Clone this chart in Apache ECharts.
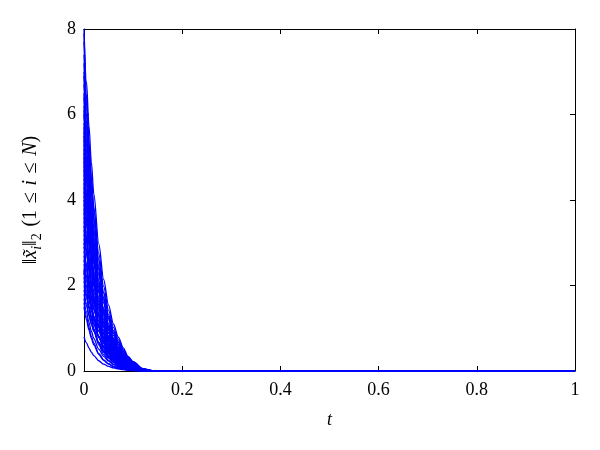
<!DOCTYPE html>
<html>
<head>
<meta charset="utf-8">
<script src="https://cdn.jsdelivr.net/npm/echarts@6/dist/echarts.min.js"></script>
<style>html,body{margin:0;padding:0;background:#fff}#c{width:600px;height:450px}</style>
</head>
<body>
<div id="c"></div>
<script>
// time samples
const tValues = [0, 0.005, 0.01, 0.015, 0.02, 0.03, 0.04, 0.05, 0.06, 0.07, 0.08, 0.09, 0.1, 0.12, 0.14, 0.2, 1];
// each row: ||x~_i||_2 of one agent at the time samples above
const curveValues = [
  [8.0, 6.78, 5.75, 4.88, 4.14, 2.98, 2.14, 1.54, 1.10, 0.79, 0.54, 0.34, 0.22, 0.056, 0.008, 0, 0],
  [7.9, 6.47, 5.29, 4.34, 3.55, 2.38, 1.60, 1.07, 0.72, 0.48, 0.31, 0.18, 0.11, 0.024, 0.002, 0, 0],
  [7.7, 6.43, 5.37, 4.49, 3.75, 2.62, 1.82, 1.27, 0.89, 0.62, 0.41, 0.26, 0.15, 0.04, 0.005, 0, 0],
  [7.4, 6.28, 5.32, 4.51, 3.83, 2.75, 1.98, 1.42, 1.02, 0.73, 0.50, 0.32, 0.21, 0.05, 0.007, 0, 0],
  [7.2, 6.01, 5.03, 4.20, 3.51, 2.45, 1.71, 1.19, 0.83, 0.58, 0.38, 0.24, 0.14, 0.036, 0.004, 0, 0],
  [7.0, 5.73, 4.69, 3.84, 3.14, 2.11, 1.41, 0.95, 0.64, 0.43, 0.27, 0.16, 0.10, 0.02, 0.002, 0, 0],
  [6.9, 5.85, 4.96, 4.21, 3.57, 2.57, 1.84, 1.32, 0.95, 0.68, 0.46, 0.30, 0.19, 0.048, 0.007, 0, 0],
  [6.7, 5.59, 4.68, 3.91, 3.26, 2.28, 1.59, 1.11, 0.77, 0.54, 0.36, 0.23, 0.13, 0.03, 0.004, 0, 0],
  [6.5, 5.32, 4.36, 3.57, 2.92, 1.96, 1.31, 0.88, 0.59, 0.40, 0.25, 0.15, 0.09, 0.02, 0.002, 0, 0],
  [6.4, 5.43, 4.60, 3.90, 3.31, 2.38, 1.71, 1.23, 0.88, 0.63, 0.43, 0.28, 0.18, 0.045, 0.006, 0, 0],
  [6.2, 5.18, 4.33, 3.61, 3.02, 2.11, 1.47, 1.02, 0.71, 0.50, 0.33, 0.21, 0.12, 0.03, 0.004, 0, 0],
  [6.1, 5.0, 4.09, 3.35, 2.74, 1.84, 1.23, 0.82, 0.56, 0.37, 0.24, 0.14, 0.085, 0.018, 0.002, 0, 0],
  [6.0, 5.01, 4.19, 3.50, 2.92, 2.04, 1.42, 0.99, 0.69, 0.48, 0.32, 0.20, 0.12, 0.03, 0.004, 0, 0],
  [5.8, 4.84, 4.05, 3.38, 2.82, 1.97, 1.37, 0.96, 0.67, 0.46, 0.31, 0.20, 0.12, 0.03, 0.003, 0, 0],
  [5.7, 4.67, 3.82, 3.13, 2.56, 1.72, 1.15, 0.77, 0.52, 0.35, 0.22, 0.13, 0.08, 0.017, 0.002, 0, 0],
  [5.6, 4.59, 3.75, 3.07, 2.51, 1.69, 1.13, 0.76, 0.51, 0.34, 0.22, 0.13, 0.08, 0.017, 0.002, 0, 0],
  [5.5, 4.74, 4.08, 3.51, 3.02, 2.24, 1.66, 1.23, 0.91, 0.67, 0.47, 0.31, 0.21, 0.05, 0.006, 0, 0],
  [5.4, 4.51, 3.77, 3.15, 2.63, 1.84, 1.28, 0.89, 0.62, 0.43, 0.29, 0.18, 0.11, 0.027, 0.003, 0, 0],
  [5.3, 4.49, 3.81, 3.23, 2.74, 1.97, 1.42, 1.02, 0.73, 0.52, 0.36, 0.23, 0.15, 0.037, 0.005, 0, 0],
  [5.2, 4.15, 3.32, 2.65, 2.12, 1.35, 0.86, 0.55, 0.35, 0.22, 0.14, 0.08, 0.04, 0.01, 0.001, 0, 0],
  [5.1, 4.18, 3.42, 2.80, 2.29, 1.54, 1.03, 0.69, 0.46, 0.31, 0.20, 0.12, 0.07, 0.015, 0.002, 0, 0],
  [5.0, 4.24, 3.60, 3.05, 2.59, 1.86, 1.34, 0.96, 0.69, 0.50, 0.34, 0.22, 0.14, 0.035, 0.005, 0, 0],
  [4.9, 3.92, 3.13, 2.49, 1.99, 1.27, 0.81, 0.51, 0.33, 0.21, 0.13, 0.07, 0.04, 0.01, 0.001, 0, 0],
  [4.8, 4.01, 3.35, 2.80, 2.34, 1.63, 1.14, 0.79, 0.55, 0.38, 0.25, 0.16, 0.10, 0.024, 0.003, 0, 0],
  [4.7, 3.85, 3.15, 2.58, 2.11, 1.41, 0.95, 0.63, 0.43, 0.29, 0.18, 0.11, 0.066, 0.014, 0.001, 0, 0],
  [4.6, 3.96, 3.41, 2.93, 2.53, 1.87, 1.38, 1.03, 0.76, 0.56, 0.40, 0.26, 0.17, 0.04, 0.005, 0, 0],
  [4.5, 3.76, 3.14, 2.62, 2.19, 1.53, 1.07, 0.74, 0.52, 0.36, 0.24, 0.15, 0.09, 0.023, 0.003, 0, 0],
  [4.4, 3.60, 2.95, 2.42, 1.98, 1.32, 0.89, 0.59, 0.40, 0.27, 0.17, 0.10, 0.06, 0.013, 0.001, 0, 0],
  [4.3, 3.59, 3.0, 2.51, 2.09, 1.46, 1.02, 0.71, 0.49, 0.34, 0.23, 0.15, 0.086, 0.022, 0.003, 0, 0],
  [4.2, 3.56, 3.02, 2.56, 2.17, 1.56, 1.12, 0.81, 0.58, 0.42, 0.28, 0.18, 0.12, 0.03, 0.004, 0, 0],
  [4.1, 3.28, 2.62, 2.09, 1.67, 1.06, 0.68, 0.43, 0.27, 0.18, 0.11, 0.06, 0.033, 0.008, 0.001, 0, 0],
  [4.0, 3.44, 2.96, 2.55, 2.20, 1.63, 1.20, 0.89, 0.66, 0.49, 0.34, 0.23, 0.15, 0.036, 0.004, 0, 0],
  [3.9, 3.12, 2.49, 1.99, 1.59, 1.01, 0.64, 0.41, 0.26, 0.17, 0.10, 0.06, 0.03, 0.008, 0.001, 0, 0],
  [3.8, 3.17, 2.65, 2.22, 1.85, 1.29, 0.90, 0.63, 0.44, 0.30, 0.20, 0.13, 0.076, 0.019, 0.002, 0, 0],
  [3.7, 3.03, 2.48, 2.03, 1.66, 1.11, 0.75, 0.50, 0.34, 0.23, 0.14, 0.085, 0.05, 0.011, 0.001, 0, 0],
  [3.6, 3.10, 2.67, 2.30, 1.98, 1.47, 1.08, 0.80, 0.59, 0.44, 0.31, 0.21, 0.14, 0.032, 0.004, 0, 0],
  [3.5, 2.87, 2.35, 1.92, 1.57, 1.05, 0.71, 0.47, 0.32, 0.21, 0.14, 0.08, 0.05, 0.01, 0.001, 0, 0],
  [3.4, 2.84, 2.37, 1.98, 1.66, 1.16, 0.81, 0.56, 0.39, 0.27, 0.18, 0.12, 0.07, 0.017, 0.002, 0, 0],
  [3.3, 2.80, 2.37, 2.01, 1.71, 1.23, 0.88, 0.63, 0.46, 0.33, 0.22, 0.14, 0.09, 0.023, 0.003, 0, 0],
  [3.2, 2.76, 2.37, 2.04, 1.76, 1.30, 0.96, 0.71, 0.53, 0.39, 0.28, 0.18, 0.12, 0.029, 0.003, 0, 0],
  [3.1, 2.48, 1.98, 1.58, 1.26, 0.80, 0.51, 0.33, 0.21, 0.13, 0.08, 0.047, 0.025, 0.006, 0.001, 0, 0],
  [3.0, 2.51, 2.09, 1.75, 1.46, 1.02, 0.71, 0.50, 0.35, 0.24, 0.16, 0.10, 0.06, 0.015, 0.002, 0, 0],
  [2.9, 2.50, 2.15, 1.85, 1.59, 1.18, 0.87, 0.65, 0.48, 0.35, 0.25, 0.17, 0.11, 0.026, 0.003, 0, 0],
  [2.8, 2.37, 2.01, 1.71, 1.45, 1.04, 0.75, 0.54, 0.39, 0.28, 0.19, 0.12, 0.08, 0.02, 0.003, 0, 0],
  [2.7, 2.21, 1.81, 1.48, 1.21, 0.81, 0.55, 0.36, 0.25, 0.16, 0.11, 0.06, 0.04, 0.008, 0.001, 0, 0],
  [2.6, 2.24, 1.93, 1.66, 1.43, 1.06, 0.78, 0.58, 0.43, 0.32, 0.22, 0.15, 0.10, 0.023, 0.003, 0, 0],
  [2.5, 2.12, 1.80, 1.53, 1.29, 0.93, 0.67, 0.48, 0.35, 0.25, 0.17, 0.11, 0.07, 0.018, 0.002, 0, 0],
  [2.4, 2.0, 1.68, 1.40, 1.17, 0.82, 0.57, 0.40, 0.28, 0.19, 0.13, 0.08, 0.05, 0.012, 0.001, 0, 0],
  [2.35, 1.88, 1.50, 1.20, 0.96, 0.61, 0.39, 0.25, 0.16, 0.10, 0.06, 0.035, 0.02, 0.005, 0, 0, 0],
  [2.3, 1.98, 1.70, 1.47, 1.26, 0.94, 0.69, 0.51, 0.38, 0.28, 0.20, 0.13, 0.09, 0.02, 0.002, 0, 0],
  [2.2, 1.80, 1.47, 1.21, 0.99, 0.66, 0.44, 0.30, 0.20, 0.13, 0.086, 0.05, 0.03, 0.007, 0.001, 0, 0],
  [2.1, 1.78, 1.51, 1.28, 1.09, 0.78, 0.56, 0.40, 0.29, 0.21, 0.14, 0.09, 0.06, 0.015, 0.002, 0, 0],
  [2.0, 1.72, 1.48, 1.28, 1.10, 0.81, 0.60, 0.45, 0.33, 0.24, 0.17, 0.11, 0.08, 0.018, 0.002, 0, 0],
  [1.9, 1.59, 1.33, 1.11, 0.93, 0.65, 0.45, 0.31, 0.22, 0.15, 0.10, 0.065, 0.038, 0.01, 0.001, 0, 0],
  [1.8, 1.53, 1.29, 1.10, 0.93, 0.67, 0.48, 0.35, 0.25, 0.18, 0.12, 0.077, 0.05, 0.013, 0.002, 0, 0],
  [1.7, 1.39, 1.14, 0.93, 0.76, 0.51, 0.34, 0.23, 0.15, 0.10, 0.066, 0.04, 0.024, 0.005, 0, 0, 0],
  [1.6, 1.28, 1.02, 0.81, 0.65, 0.41, 0.26, 0.17, 0.11, 0.07, 0.042, 0.024, 0.013, 0.003, 0, 0, 0],
  [1.5, 1.20, 0.96, 0.76, 0.61, 0.39, 0.25, 0.16, 0.10, 0.065, 0.039, 0.023, 0.012, 0.003, 0, 0, 0],
  [0.8, 0.66, 0.54, 0.44, 0.36, 0.24, 0.16, 0.11, 0.073, 0.049, 0.031, 0.018, 0.011, 0.002, 0, 0, 0]
];
// axis ticks
const xTicks = [0, 0.2, 0.4, 0.6, 0.8, 1];
const yTicks = [0, 2, 4, 6, 8];

const chart = echarts.init(document.getElementById('c'), null, {renderer: 'canvas'});
const serif = '"Liberation Serif", "DejaVu Serif", serif';
const series = curveValues.map(vals => ({
  type: 'line',
  data: tValues.map((t, k) => [t, vals[k]]),
  showSymbol: false,
  smooth: 0.3,
  smoothMonotone: 'x',
  lineStyle: {color: '#0000ff', width: 1.3},
  silent: true
}));

const tickStyle = {show: true, inside: true, length: 5, lineStyle: {color: '#000', width: 1}};
const lineStyle = {show: true, onZero: false, lineStyle: {color: '#000', width: 1}};
const sp = '\u2004';

chart.setOption({
  animation: false,
  backgroundColor: '#fff',
  grid: {left: 84, right: 25, top: 29, bottom: 79, containLabel: false, outerBoundsMode: 'none'},
  xAxis: [
    {
      type: 'value', min: xTicks[0], max: xTicks[xTicks.length - 1], interval: 0.2,
      position: 'bottom',
      axisLine: lineStyle, axisTick: tickStyle, splitLine: {show: false},
      axisLabel: {color: '#000', fontFamily: serif, fontSize: 18, margin: 10},
      name: 't', nameLocation: 'middle', nameGap: 40,
      nameTextStyle: {color: '#000', fontFamily: serif, fontSize: 18, fontStyle: 'italic'}
    },
    {
      type: 'value', min: xTicks[0], max: xTicks[xTicks.length - 1], interval: 0.2,
      position: 'top',
      axisLine: lineStyle, axisTick: tickStyle, splitLine: {show: false},
      axisLabel: {show: false}
    }
  ],
  yAxis: [
    {
      type: 'value', min: yTicks[0], max: yTicks[yTicks.length - 1], interval: 2,
      position: 'left',
      axisLine: lineStyle, axisTick: tickStyle, splitLine: {show: false},
      axisLabel: {color: '#000', fontFamily: serif, fontSize: 18, margin: 8},
      name: '{n|‖}{it|x̃}{sub|i}{n|‖}{sub2|2}{n|' + sp + '(1' + sp + '≤' + sp + '}{it|i}{n|' + sp + '≤' + sp + '}{it|N}{n|)}',
      nameLocation: 'middle', nameGap: 40, nameRotate: 90,
      nameTextStyle: {
        color: '#000', fontFamily: serif, fontSize: 20,
        rich: {
          n: {color: '#000', fontFamily: serif, fontSize: 20, lineHeight: 26},
          it: {color: '#000', fontFamily: serif, fontSize: 20, fontStyle: 'italic', lineHeight: 26},
          sub: {color: '#000', fontFamily: serif, fontSize: 14, fontStyle: 'italic', lineHeight: 14, verticalAlign: 'bottom'},
          sub2: {color: '#000', fontFamily: serif, fontSize: 14, lineHeight: 14, verticalAlign: 'bottom'}
        }
      }
    },
    {
      type: 'value', min: yTicks[0], max: yTicks[yTicks.length - 1], interval: 2,
      position: 'right',
      axisLine: lineStyle, axisTick: tickStyle, splitLine: {show: false},
      axisLabel: {show: false}
    }
  ],
  series: series
});
</script>
</body>
</html>
